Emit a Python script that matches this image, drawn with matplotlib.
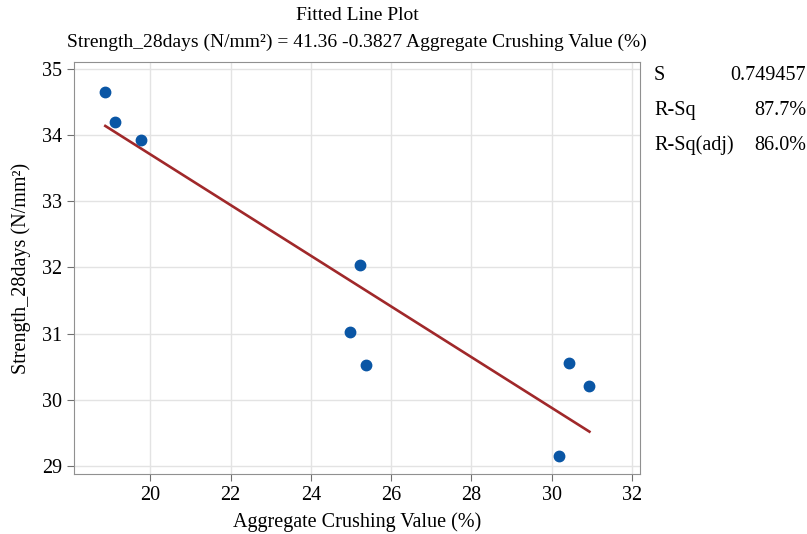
import numpy as np
import matplotlib.pyplot as plt

plt.rcParams['font.family'] = ['Liberation Serif', 'DejaVu Serif']

# Dane
acv = [18.88, 19.13, 19.76, 25.22, 24.98, 25.37, 30.42, 30.94, 30.17]
strength = [34.65, 34.20, 33.92, 32.04, 31.03, 30.52, 30.56, 30.21, 29.15]
intercept = 41.36
slope = -0.3827
stats_labels = ['S', 'R-Sq', 'R-Sq(adj)']
stats_values = ['0.749457', '87.7%', '86.0%']

fig = plt.figure(figsize=(8.07, 5.34), dpi=100)
ax = fig.add_axes([74 / 807, 60 / 534, 566 / 807, 412 / 534])

# Linia dopasowania
xf = np.array([min(acv), max(acv)])
ax.plot(xf, intercept + slope * xf, color='#a0282a', lw=1.9, zorder=2)
ax.plot(acv, strength, 'o', color='#0a56a5', ms=7.5, zorder=3)

ax.set_xlim(18.1, 32.2)
ax.set_ylim(28.88, 35.1)
ax.set_xticks(range(20, 33, 2))
ax.set_yticks(range(29, 36))
ax.grid(True, color='#e3e3e3', lw=1)
ax.set_axisbelow(True)
for s in ax.spines.values():
    s.set_color('#909090')
ax.tick_params(labelsize=14.5, color='#707070', length=5)

ax.set_ylabel('Strength_28days (N/mm²)', fontsize=14.5, labelpad=8)

fig.text(357 / 807, 1 - 16 / 534, 'Fitted Line Plot', ha='center', va='center', fontsize=14)
fig.text(357 / 807, 1 - 42 / 534,
         'Strength_28days (N/mm²) = 41.36 -0.3827 Aggregate Crushing Value (%)',
         ha='center', va='center', fontsize=14)
fig.text(357 / 807, 1 - 522 / 534, 'Aggregate Crushing Value (%)',
         ha='center', va='center', fontsize=14.5)

# Statystyki po prawej
for i, (lab, val) in enumerate(zip(stats_labels, stats_values)):
    y = 1 - (75 + i * 35) / 534
    fig.text(654 / 807, y, lab, ha='left', va='center', fontsize=14.5)
    fig.text(806 / 807, y, val, ha='right', va='center', fontsize=14.5)

fig.savefig('out.png', dpi=100)
